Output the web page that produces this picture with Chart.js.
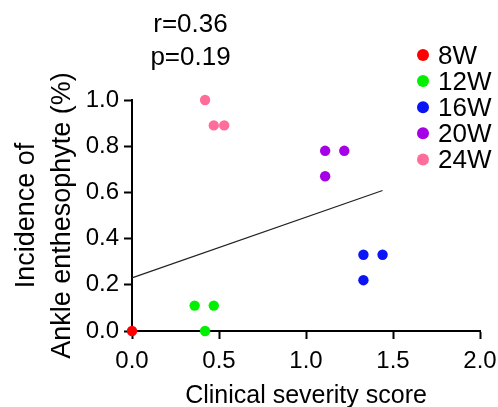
<!DOCTYPE html>
<html>
<head>
<meta charset="utf-8">
<script src="https://cdn.jsdelivr.net/npm/chart.js@4/dist/chart.umd.min.js"></script>
<style>
html,body{margin:0;padding:0;background:#fff;}
#wrap{width:498px;height:407px;position:relative;}
</style>
</head>
<body>
<div id="wrap"><canvas id="c" width="498" height="407"></canvas></div>
<script>
const groups = ['8W', '12W', '16W', '20W', '24W'];
const groupColors = ['#FF0000', '#00F000', '#0A14F5', '#A500E6', '#FF6E9B'];
const severity8W = [0.0];
const incidence8W = [0.0];
const severity12W = [0.36, 0.47, 0.42];
const incidence12W = [0.11, 0.11, 0.0];
const severity16W = [1.33, 1.44, 1.33];
const incidence16W = [0.33, 0.33, 0.22];
const severity20W = [1.11, 1.22, 1.11];
const incidence20W = [0.78, 0.78, 0.67];
const severity24W = [0.42, 0.47, 0.53];
const incidence24W = [1.0, 0.89, 0.89];
const fitX = [0.0, 1.44];
const fitY = [0.23, 0.608];
const xTicks = [0, 0.5, 1.0, 1.5, 2.0];
const yTicks = [0, 0.2, 0.4, 0.6, 0.8, 1.0];
const statsText = ['r=0.36', 'p=0.19'];

const sevs = [severity8W, severity12W, severity16W, severity20W, severity24W];
const incs = [incidence8W, incidence12W, incidence16W, incidence20W, incidence24W];

const FONT = '"Liberation Sans", Arial, sans-serif';

const datasets = [{
  type: 'line',
  label: 'fit',
  data: fitX.map((x, i) => ({x: x, y: fitY[i]})),
  borderColor: '#222222',
  borderWidth: 1.2,
  pointRadius: 0,
  fill: false,
  clip: false,
  order: 2
}];
groups.forEach((g, gi) => {
  datasets.push({
    type: 'scatter',
    label: g,
    data: sevs[gi].map((x, i) => ({x: x, y: incs[gi][i]})),
    backgroundColor: groupColors[gi],
    borderColor: groupColors[gi],
    borderWidth: 0,
    pointRadius: 5.2,
    pointHoverRadius: 5.2,
    clip: false,
    order: 1
  });
});

const overlay = {
  id: 'overlay',
  afterDraw(chart) {
    const ctx = chart.ctx;
    ctx.save();
    ctx.fillStyle = '#000';
    ctx.font = '26px ' + FONT;
    ctx.textAlign = 'center';
    ctx.textBaseline = 'alphabetic';
    ctx.fillText(statsText[0], 190.5, 32);
    ctx.fillText(statsText[1], 190.5, 65);
    // legend
    ctx.textAlign = 'left';
    groups.forEach((g, i) => {
      const cy = 55 + i * 26.1;
      ctx.beginPath();
      ctx.arc(423, cy, 6, 0, Math.PI * 2);
      ctx.fillStyle = groupColors[i];
      ctx.fill();
      ctx.fillStyle = '#000';
      ctx.fillText(g, 438, cy + 8.5);
    });
    ctx.restore();
  }
};

new Chart(document.getElementById('c'), {
  data: {datasets: datasets},
  options: {
    responsive: false,
    animation: false,
    events: [],
    layout: {padding: {top: 100, right: 18, left: 0, bottom: 0}},
    plugins: {legend: {display: false}, tooltip: {enabled: false}},
    scales: {
      x: {
        type: 'linear',
        min: 0, max: 2,
        afterBuildTicks(axis) { axis.ticks = xTicks.map(v => ({value: v})); },
        afterFit(axis) { axis.height = 76; axis.paddingRight = 0; axis.paddingLeft = 0; },
        ticks: {
          color: '#000',
          font: {family: FONT, size: 24},
          padding: 8,
          callback: v => Number(v).toFixed(1)
        },
        grid: {display: true, drawOnChartArea: false, drawTicks: true, tickLength: 8, tickWidth: 2, tickColor: '#000'},
        border: {display: true, color: '#000', width: 2},
        title: {display: true, text: 'Clinical severity score', color: '#000', font: {family: FONT, size: 25, lineHeight: 0.85}, padding: {top: 0, bottom: 0}}
      },
      y: {
        type: 'linear',
        min: 0, max: 1,
        afterBuildTicks(axis) { axis.ticks = yTicks.map(v => ({value: v})); },
        afterFit(axis) { axis.width = 132; axis.paddingTop = 0; axis.paddingBottom = 0; },
        ticks: {
          color: '#000',
          font: {family: FONT, size: 24},
          padding: 5,
          callback: v => Number(v).toFixed(1)
        },
        grid: {display: true, drawOnChartArea: false, drawTicks: true, tickLength: 8, tickWidth: 2, tickColor: '#000'},
        border: {display: true, color: '#000', width: 2},
        title: {display: true, text: ['Incidence of', 'Ankle enthesophyte (%)'], color: '#000', font: {family: FONT, size: 27, lineHeight: 1.33}, padding: {top: 9, bottom: 0}}
      }
    }
  },
  plugins: [overlay]
});
</script>
</body>
</html>
